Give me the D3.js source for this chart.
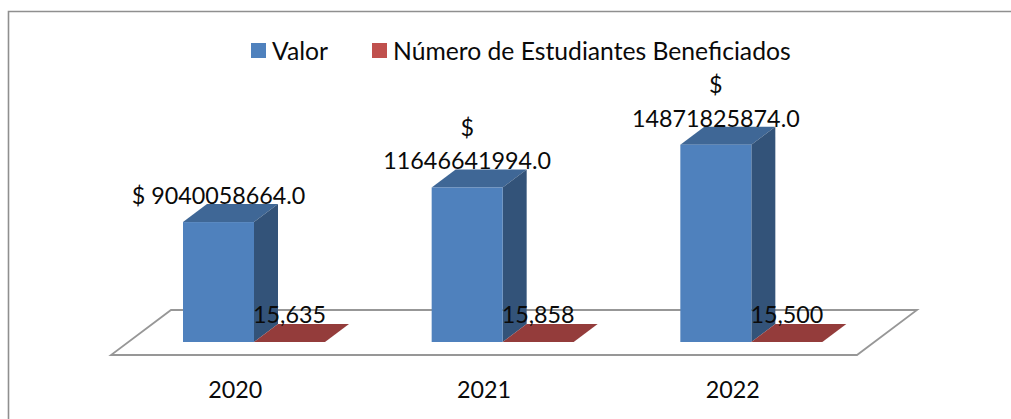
<!DOCTYPE html>
<html><head><meta charset="utf-8">
<script src="https://cdn.jsdelivr.net/npm/d3@7/dist/d3.min.js"></script>
<style>html,body{margin:0;padding:0;background:#fff}svg{display:block}text{font-family:Lato,Carlito,sans-serif;fill:#0a0a0a}</style>
</head><body><div id="chart"></div>
<script>
const categories = ["2020","2021","2022"];
const valor = [9040058664.0, 11646641994.0, 14871825874.0];
const estudiantes = [15635, 15858, 15500];
const valorLabels = [["$ 9040058664.0"],["$","11646641994.0"],["$","14871825874.0"]];
const estudiantesLabels = ["15,635","15,858","15,500"];
const seriesNames = ["Valor","Número de Estudiantes Beneficiados"];

const W=1011,H=419,FS=23.3,LEG=24.7;
const svg=d3.select("#chart").append("svg").attr("width",W).attr("height",H);
const dx=24,dy=18,barW=71;
const floorL=111,floorR=857,floorFront=355,base=342,floorBackY=310,floorDx=60;
const x=d3.scaleBand().domain(categories).range([floorL,floorR]);
const y=d3.scaleLinear().domain([0,1.5e10]).range([base,base-199]);
const barX=c=>x(c)+72;

// frame
svg.append("path").attr("d",`M8.5,${H}V11.5H${W}`).attr("fill","none").attr("stroke","#8f8f8f").attr("stroke-width",1.6);

// floor
svg.append("path")
  .attr("d",`M${floorL},${floorFront}L${floorR},${floorFront}L${floorR+floorDx},${floorBackY}L${floorL+floorDx},${floorBackY}Z`)
  .attr("fill","#fff").attr("stroke","#979797").attr("stroke-width",1.8);

function bar3d(g,x0,yTop,w,front,top,side){
  g.append("path").attr("d",`M${x0},${yTop}L${x0+dx},${yTop-dy}L${x0+w+dx},${yTop-dy}L${x0+w},${yTop}Z`).attr("fill",top);
  g.append("path").attr("d",`M${x0+w},${yTop}L${x0+w+dx},${yTop-dy}L${x0+w+dx},${base-dy}L${x0+w},${base}Z`).attr("fill",side);
  g.append("rect").attr("x",x0).attr("y",yTop).attr("width",w).attr("height",Math.max(0,base-yTop)).attr("fill",front);
}
const marks=svg.append("g");
categories.forEach((c,i)=>{
  bar3d(marks,barX(c),y(valor[i]),barW,"#4f81bd","#3f6796","#335379");
});
categories.forEach((c,i)=>{
  bar3d(marks,barX(c)+barW,y(estudiantes[i]),barW,"#c0504d","#943c3b","#7a3230");
});

// axis labels
const axis=d3.axisBottom(x).tickSize(0).tickPadding(0);
const ax=svg.append("g").attr("transform","translate(0,380)").call(axis);
ax.select(".domain").remove();
ax.selectAll("text").attr("font-size",FS).attr("dy",0).attr("y",18).style("font-family","Lato,Carlito,sans-serif").attr("fill","#0a0a0a");

// data labels
categories.forEach((c,i)=>{
  const cx=barX(c)+barW/2, yb=y(valor[i])-18;
  const lines=valorLabels[i];
  lines.forEach((t,j)=>{
    svg.append("text").attr("x",cx).attr("y",yb-(lines.length-1-j)*33.5).attr("text-anchor","middle").attr("font-size",FS).text(t);
  });
  svg.append("text").attr("x",barX(c)+barW*1.5).attr("y",323).attr("text-anchor","middle").attr("font-size",FS).text(estudiantesLabels[i]);
});

// legend
const legendX=[251,372], legendC=["#4f81bd","#c0504d"];
seriesNames.forEach((s,i)=>{
  svg.append("rect").attr("x",legendX[i]).attr("y",43).attr("width",15).attr("height",15).attr("fill",legendC[i]);
  svg.append("text").attr("x",legendX[i]+21).attr("y",59.5).attr("font-size",LEG).text(s);
});
</script></body></html>
